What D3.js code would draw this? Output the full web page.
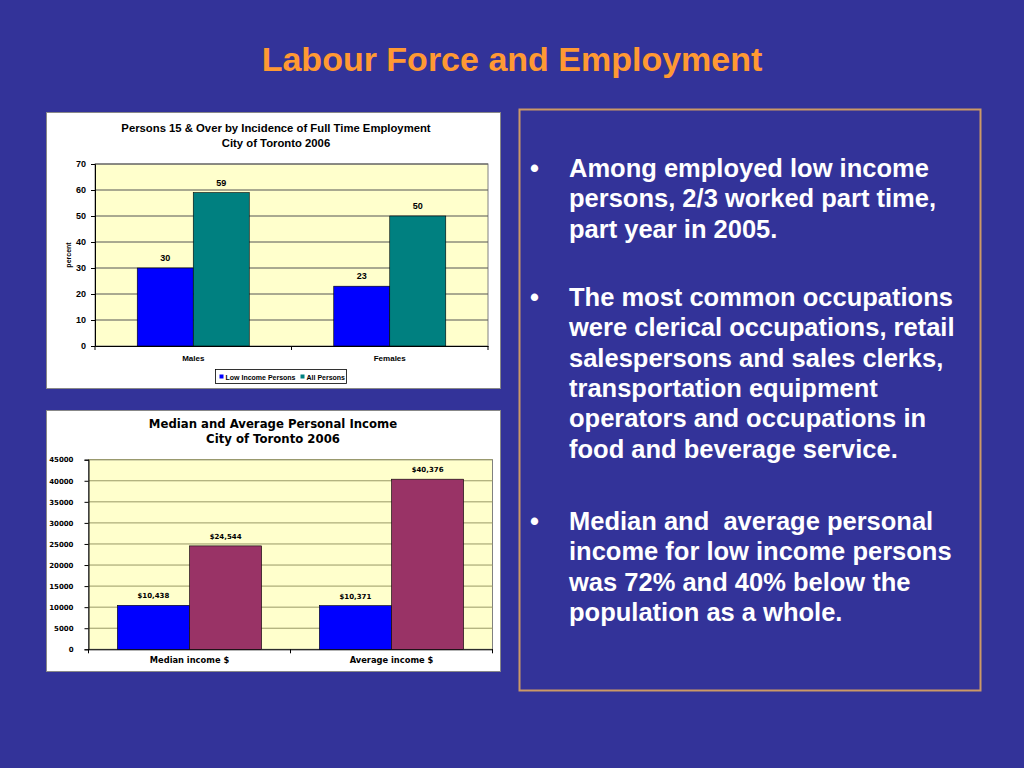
<!DOCTYPE html>
<html>
<head>
<meta charset="utf-8">
<script src="https://cdn.jsdelivr.net/npm/d3@7"></script>
<style>
  html, body { margin: 0; padding: 0; background: #333399; }
  svg { display: block; }
</style>
</head>
<body>
<div id="slide"></div>
<script>
// chart 1: full time employment
const empCategories = ['Males', 'Females'];
const empSeries = ['Low Income Persons', 'All Persons'];
const empValues = [[30, 59], [23, 50]];
const empTicks = [0, 10, 20, 30, 40, 50, 60, 70];

// chart 2: personal income
const incCategories = ['Median income $', 'Average income $'];
const incSeries = ['Low Income Persons', 'All Persons'];
const incValues = [[10438, 24544], [10371, 40376]];
const incTicks = [0, 5000, 10000, 15000, 20000, 25000, 30000, 35000, 40000, 45000];

const bullets = [
  ['Among employed low income', 'persons, 2/3 worked part time,', 'part year in 2005.'],
  ['The most common occupations', 'were clerical occupations, retail', 'salespersons and sales clerks,',
   'transportation equipment', 'operators and occupations in', 'food and beverage service.'],
  ['Median and  average personal', 'income for low income persons', 'was 72% and 40% below the',
   'population as a whole.']
];

const ARIAL = '"Liberation Sans", Arial, sans-serif';
const VERD = '"DejaVu Sans", Verdana, sans-serif';

const W = 1024, H = 768;
const svg = d3.select('#slide').append('svg')
  .attr('width', W)
  .attr('height', H);

svg.append('rect').attr('width', W).attr('height', H).attr('fill', '#333399');

svg.append('text')
  .attr('x', 512).attr('y', 71)
  .attr('text-anchor', 'middle')
  .attr('font-family', ARIAL).attr('font-weight', 'bold').attr('font-size', 34)
  .attr('fill', '#FF9933')
  .text('Labour Force and Employment');

function barChart(opt) {
  const g = svg.append('g');
  g.append('rect')
    .attr('x', opt.box[0]).attr('y', opt.box[1])
    .attr('width', opt.box[2]).attr('height', opt.box[3])
    .attr('fill', '#fff').attr('stroke', '#888').attr('stroke-width', 1);

  opt.title.forEach((t, i) => {
    g.append('text')
      .attr('x', opt.titleX).attr('y', opt.titleY + i * 15)
      .attr('text-anchor', 'middle')
      .attr('font-family', opt.family).attr('font-weight', 'bold').attr('font-size', opt.titleSize)
      .text(t);
  });

  const y = d3.scaleLinear()
    .domain([0, d3.max(opt.ticks)])
    .range([opt.plot.bottom, opt.plot.top]);

  const x0 = d3.scaleBand()
    .domain(opt.categories)
    .range([opt.plot.left, opt.plot.right])
    .padding(0);

  const x1 = d3.scaleBand()
    .domain(opt.series)
    .range([0, x0.bandwidth()])
    .paddingInner(0)
    .paddingOuter(opt.outer);

  g.append('rect')
    .attr('x', opt.plot.left).attr('y', opt.plot.top)
    .attr('width', opt.plot.right - opt.plot.left)
    .attr('height', opt.plot.bottom - opt.plot.top)
    .attr('fill', '#FFFFCC')
    .attr('stroke', '#808080');

  g.selectAll('line.grid')
    .data(opt.ticks.slice(1))
    .enter().append('line')
    .attr('class', 'grid')
    .attr('x1', opt.plot.left).attr('x2', opt.plot.right)
    .attr('y1', d => y(d)).attr('y2', d => y(d))
    .attr('stroke', opt.gridColor).attr('stroke-width', 1);

  const yAxis = d3.axisLeft(y).tickValues(opt.ticks)
    .tickFormat(d3.format('d')).tickSize(4).tickPadding(opt.tickPad);
  const ya = g.append('g')
    .attr('transform', `translate(${opt.plot.left},0)`)
    .call(yAxis);
  ya.select('.domain').attr('stroke', '#000');
  ya.selectAll('line').attr('stroke', '#000');
  ya.selectAll('text')
    .attr('font-family', opt.family).attr('font-weight', 'bold').attr('font-size', opt.tickSize)
    .attr('fill', '#000');

  const xAxis = d3.axisBottom(x0).tickSize(0).tickPadding(opt.catPad);
  const xa = g.append('g')
    .attr('transform', `translate(0,${opt.plot.bottom})`)
    .call(xAxis);
  xa.select('.domain').attr('stroke', '#000');
  xa.selectAll('text')
    .attr('font-family', opt.family).attr('font-weight', 'bold').attr('font-size', opt.catSize)
    .attr('fill', '#000');

  // category separator ticks
  g.selectAll('line.sep')
    .data([opt.plot.left, x0(opt.categories[1]), opt.plot.right])
    .enter().append('line')
    .attr('x1', d => d).attr('x2', d => d)
    .attr('y1', opt.plot.bottom).attr('y2', opt.plot.bottom + 4)
    .attr('stroke', '#000');

  const groups = g.selectAll('g.grp')
    .data(opt.categories)
    .enter().append('g')
    .attr('transform', d => `translate(${x0(d)},0)`);

  groups.selectAll('rect')
    .data((d, i) => opt.values[i].map((v, j) => ({ s: opt.series[j], v })))
    .enter().append('rect')
    .attr('x', d => x1(d.s))
    .attr('width', x1.bandwidth())
    .attr('y', d => y(d.v))
    .attr('height', d => y(0) - y(d.v))
    .attr('fill', (d, j) => opt.colors[j])
    .attr('stroke', '#000').attr('stroke-width', 0.6);

  groups.selectAll('text.lbl')
    .data((d, i) => opt.values[i].map((v, j) => ({ s: opt.series[j], v })))
    .enter().append('text')
    .attr('x', d => x1(d.s) + x1.bandwidth() / 2)
    .attr('y', d => y(d.v) - 7)
    .attr('text-anchor', 'middle')
    .attr('font-family', opt.family).attr('font-weight', 'bold').attr('font-size', opt.tickSize)
    .text(d => opt.fmt(d.v));

  return g;
}

const c1 = barChart({
  box: [46.5, 112.5, 454, 276],
  title: ['Persons 15 & Over by Incidence of Full Time Employment', 'City of Toronto 2006'],
  titleX: 276, titleY: 132,
  family: ARIAL, titleSize: 11.3, tickSize: 9, catSize: 8,
  plot: { left: 95, right: 488, top: 164, bottom: 346 },
  categories: empCategories, series: empSeries, values: empValues, ticks: empTicks,
  outer: 0.754, colors: ['#0000FF', '#008080'], gridColor: '#555',
  tickPad: 5, catPad: 9,
  fmt: d3.format('d')
});

c1.append('text')
  .attr('transform', 'translate(71,255) rotate(-90)')
  .attr('text-anchor', 'middle')
  .attr('font-family', ARIAL).attr('font-weight', 'bold').attr('font-size', 7)
  .text('percent');

// legend for chart 1
const leg = c1.append('g').attr('transform', 'translate(215.5,369.5)');
leg.append('rect').attr('width', 131).attr('height', 14)
  .attr('fill', '#fff').attr('stroke', '#000').attr('stroke-width', 0.8);
const legX = [4, 85];
empSeries.forEach((s, i) => {
  leg.append('rect').attr('x', legX[i]).attr('y', 5).attr('width', 4).attr('height', 4)
    .attr('fill', ['#0000FF', '#008080'][i]);
  leg.append('text').attr('x', legX[i] + 6).attr('y', 10)
    .attr('font-family', ARIAL).attr('font-weight', 'bold').attr('font-size', 7)
    .text(s);
});

barChart({
  box: [46.5, 410.5, 454, 261],
  title: ['Median and Average Personal Income', 'City of Toronto 2006'],
  titleX: 273, titleY: 428,
  family: VERD, titleSize: 11.7, tickSize: 7, catSize: 8.3,
  plot: { left: 88.5, right: 492.5, top: 459.7, bottom: 649.3 },
  categories: incCategories, series: incSeries, values: incValues, ticks: incTicks,
  outer: 0.4, colors: ['#0000FF', '#993366'], gridColor: '#999966',
  tickPad: 11, catPad: 8,
  fmt: v => '$' + d3.format(',')(v)
});

// text panel
svg.append('rect')
  .attr('x', 519.5).attr('y', 109.5).attr('width', 461).attr('height', 581)
  .attr('fill', '#333399').attr('stroke', '#CC9966').attr('stroke-width', 2);

const lineH = 30.3;
const paraStart = [177, 306, 530];
const tp = svg.append('g')
  .attr('font-family', ARIAL).attr('font-weight', 'bold').attr('font-size', 25.5)
  .attr('fill', '#fff');
bullets.forEach((lines, i) => {
  tp.append('text').attr('x', 530).attr('y', paraStart[i]).text('•');
  lines.forEach((l, k) => {
    tp.append('text').attr('x', 569).attr('y', paraStart[i] + k * lineH)
      .attr('xml:space', 'preserve').style('white-space', 'pre').text(l);
  });
});
</script>
</body>
</html>
